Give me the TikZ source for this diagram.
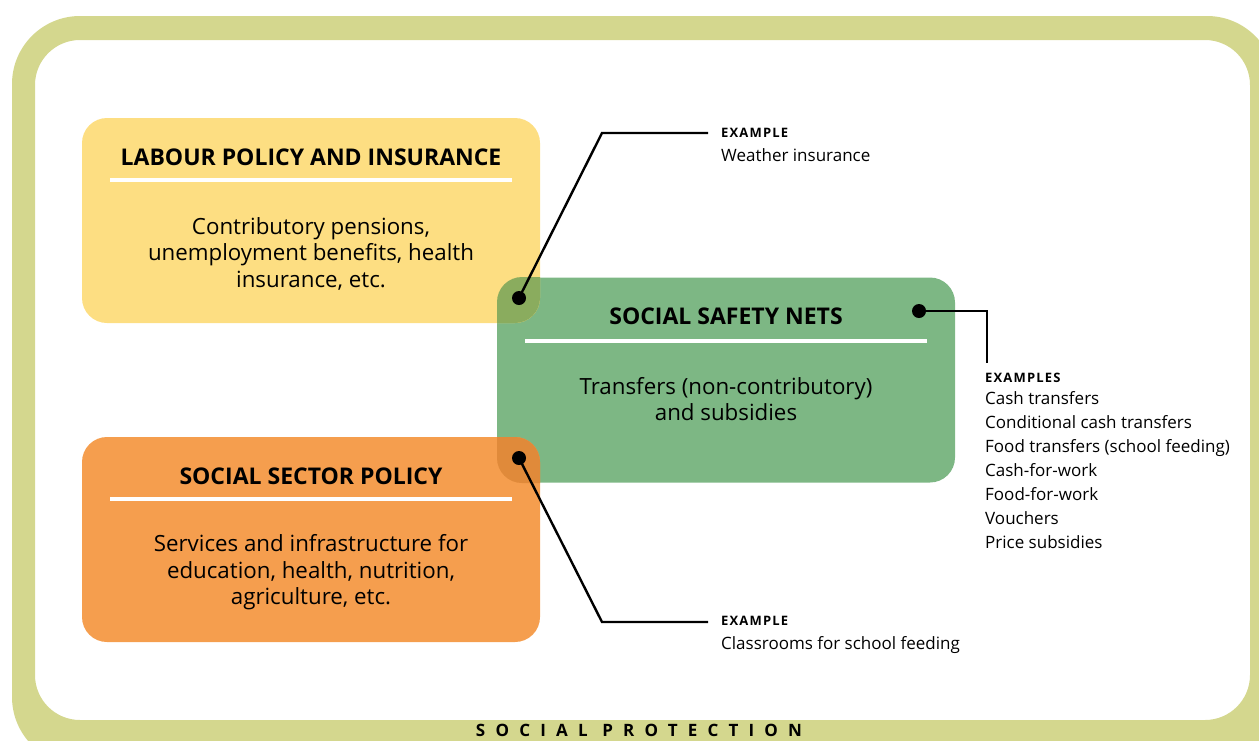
\documentclass[tikz,border=0pt]{standalone}
\usepackage{fontspec}
\setmainfont{Open Sans}
\newfontfamily\spacedfont{Open Sans}[LetterSpace=60]
\newfontfamily\exfont{Open Sans}[LetterSpace=9]
\definecolor{framec}{HTML}{D4D78E}
\definecolor{yellowc}{HTML}{FDDE82}
\definecolor{greenc}{HTML}{7DB784}
\definecolor{orangec}{HTML}{F59E4E}
\definecolor{ygc}{HTML}{8AAC5E}
\definecolor{ogc}{HTML}{E08A3A}
\begin{document}
\begin{tikzpicture}[x=1pt,y=-1pt,
  box/.style={rectangle, rounded corners=25pt, minimum width=458pt, minimum height=205pt, inner sep=0pt},
  titletext/.style={font=\bfseries\fontsize{23}{26}\selectfont, text=black},
  bodytext/.style={font=\fontsize{22.3}{26.5}\selectfont, align=center, text=black},
  rulew/.style={draw=white, line width=4pt},
  dot/.style={circle, fill=black, inner sep=0pt, minimum size=14pt},
  conn/.style={draw=black, line width=2.4pt},
  exhead/.style={font=\exfont\bfseries\fontsize{13}{15}\selectfont, anchor=base west, inner sep=0pt},
  exbody/.style={font=\fontsize{17}{24}\selectfont, align=left, inner sep=0pt}
]
\useasboundingbox (0,0) rectangle (1259,740);
\clip (0,0) rectangle (1259,740);
% frame
\fill[framec, even odd rule, rounded corners=68pt] (12,16) rectangle (1275,765)
  [rounded corners=45pt] (35,40) rectangle (1250,720);
\node[font=\spacedfont\bfseries\fontsize{17}{19}\selectfont, inner sep=0pt] (sp) at (639,730) {SOCIAL PROTECTION};

% boxes
\node[box, fill=greenc] (ssn) at (726,380) {};
\node[box, fill=yellowc] (lab) at (311,220.5) {};
\node[box, fill=orangec] (ssp) at (311,539.5) {};
% overlaps
\begin{scope}
  \clip[rounded corners=25pt] (82,118) rectangle (540,323);
  \fill[ygc, rounded corners=25pt] (497,277) rectangle (955,483);
\end{scope}
\begin{scope}
  \clip[rounded corners=25pt] (82,437) rectangle (540,642);
  \fill[ogc, rounded corners=25pt] (497,277) rectangle (955,483);
\end{scope}

% titles and rules
\node[titletext] (labt) at (311,157) {LABOUR POLICY AND INSURANCE};
\draw[rulew] (110,180) -- (512,180);
\node[bodytext] (labb) at (311,253.5) {Contributory pensions,\\unemployment benefits, health\\insurance, etc.};

\node[titletext] (ssnt) at (726,316) {SOCIAL SAFETY NETS};
\draw[rulew] (525,341) -- (927,341);
\node[bodytext] (ssnb) at (726,399) {Transfers (non-contributory)\\and subsidies};

\node[titletext] (sspt) at (311,476) {SOCIAL SECTOR POLICY};
\draw[rulew] (110,499) -- (512,499);
\node[bodytext] (sspb) at (311,572.5) {Services and infrastructure for\\education, health, nutrition,\\agriculture, etc.};

% dots and connectors
\node[dot] (d1) at (519,298) {};
\node[dot] (d2) at (919,311) {};
\node[dot] (d3) at (519,458) {};
\coordinate (e1) at (708,133);
\coordinate (e2) at (987,363);
\coordinate (e3) at (708,622);
\draw[conn] (d1.center) -- (602,133) -- (e1);
\draw[conn] (d2.center) -- (987,311) -- (e2);
\draw[conn] (d3.center) -- (602,622) -- (e3);

% examples
\node[exhead] (x1h) at (721,137) {EXAMPLE};
\node[exbody, anchor=base west] (x1b) at (721,161) {Weather insurance};
\node[exhead] (x2h) at (985,382) {EXAMPLES};
\node[exbody, anchor=north west] (x2b) at (985,391) {Cash transfers\\Conditional cash transfers\\Food transfers (school feeding)\\Cash-for-work\\Food-for-work\\Vouchers\\Price subsidies};
\node[exhead] (x3h) at (721,625) {EXAMPLE};
\node[exbody, anchor=base west] (x3b) at (721,649) {Classrooms for school feeding};
\end{tikzpicture}
\end{document}
